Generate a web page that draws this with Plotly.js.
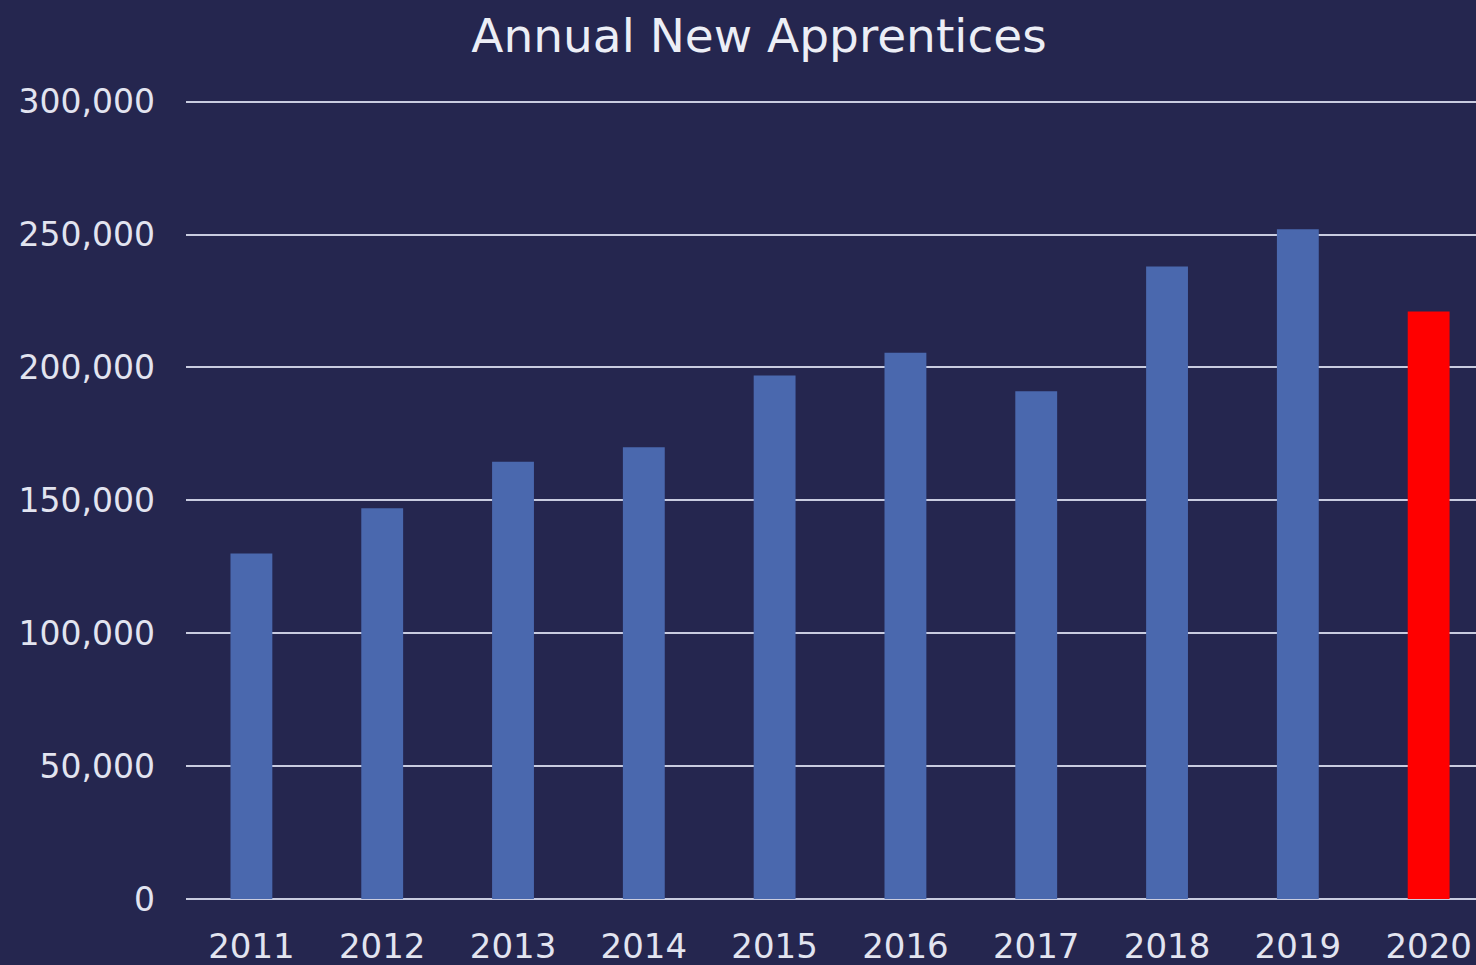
<!DOCTYPE html>
<html>
<head>
<meta charset="utf-8">
<script src="https://cdn.plot.ly/plotly-3.0.1.min.js"></script>
<style>html,body{margin:0;padding:0;background:#25264f;}#chart{width:1476px;height:965px;}</style>
</head>
<body>
<div id="chart"></div>
<script>
const years = ["2011","2012","2013","2014","2015","2016","2017","2018","2019","2020"];
const apprentices = [130000, 147000, 164500, 170000, 197000, 205500, 191000, 238000, 252000, 221000];
const barColors = ["#4a68ae","#4a68ae","#4a68ae","#4a68ae","#4a68ae","#4a68ae","#4a68ae","#4a68ae","#4a68ae","#ff0000"];
const yTicks = [0, 50000, 100000, 150000, 200000, 250000, 300000];
const yTickText = ["0","50,000","100,000","150,000","200,000","250,000","300,000"];

const trace = {
  type: "bar",
  x: years,
  y: apprentices,
  width: 0.32,
  marker: {color: barColors, line: {width: 0}},
  hoverinfo: "x+y"
};

const layout = {
  width: 1476,
  height: 965,
  paper_bgcolor: "#25264f",
  plot_bgcolor: "#25264f",
  margin: {l: 186, r: 0, t: 99, b: 66, pad: 0},
  showlegend: false,
  font: {family: "DejaVu Sans, sans-serif", color: "#e2e4f0"},
  title: {
    text: "Annual New Apprentices",
    font: {size: 47, color: "#eceef6", family: "DejaVu Sans, sans-serif"},
    xref: "container", x: 759/1476, xanchor: "center",
    yref: "container", y: 1 - 36/965, yanchor: "middle"
  },
  xaxis: {
    type: "category",
    range: [-0.5, 9.362],
    showgrid: false,
    showline: false,
    zeroline: false,
    ticks: "",
    ticklabelstandoff: 24,
    tickfont: {size: 34, color: "#e2e4f0"}
  },
  yaxis: {
    range: [0, 301000],
    tickvals: yTicks,
    ticktext: yTickText,
    showgrid: true,
    gridcolor: "#c9cce0",
    gridwidth: 2,
    zeroline: true,
    zerolinecolor: "#c9cce0",
    zerolinewidth: 2,
    showline: false,
    ticks: "",
    ticklabelstandoff: 30,
    tickfont: {size: 33, color: "#e2e4f0"}
  },
  bargap: 0.68
};

Plotly.newPlot("chart", [trace], layout, {displayModeBar: false, responsive: false});
</script>
</body>
</html>
